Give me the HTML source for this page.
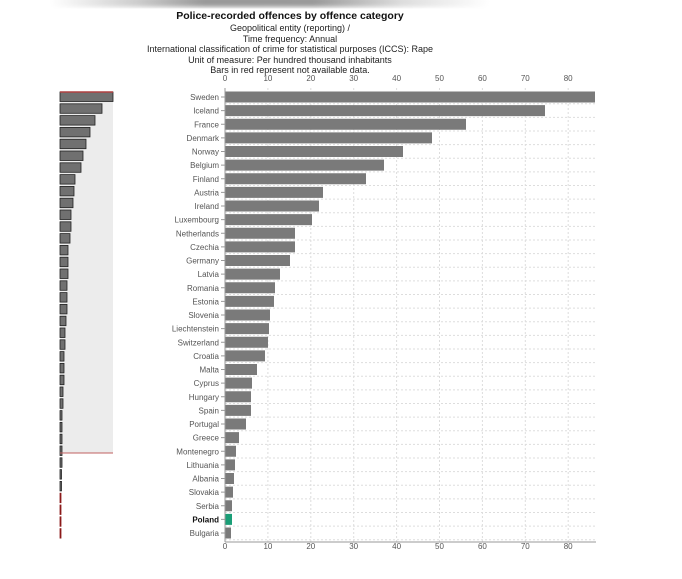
<!DOCTYPE html>
<html><head><meta charset="utf-8"><style>
html,body{margin:0;padding:0;background:#fff;}
svg{display:block;font-family:"Liberation Sans",Arial,sans-serif;}
</style></head><body>
<svg width="682" height="579" viewBox="0 0 682 579">
<defs>
<linearGradient id="tg" x1="0" x2="1" y1="0" y2="0">
<stop offset="0" stop-color="#fff"/><stop offset="0.2" stop-color="#ccc"/><stop offset="0.35" stop-color="#999"/><stop offset="0.6" stop-color="#9a9a9a"/><stop offset="0.8" stop-color="#ddd"/><stop offset="1" stop-color="#fff"/>
</linearGradient>
<filter id="bl"><feGaussianBlur stdDeviation="2"/></filter>
</defs>
<rect x="50" y="-4" width="440" height="11" fill="url(#tg)" filter="url(#bl)"/>
<g text-anchor="middle" fill="#222">
<text x="290" y="19" font-size="10.5" font-weight="bold" fill="#111">Police-recorded offences by offence category</text>
<text x="290" y="31" font-size="9">Geopolitical entity (reporting) /</text>
<text x="290" y="42" font-size="9">Time frequency: Annual</text>
<text x="290" y="52" font-size="9">International classification of crime for statistical purposes (ICCS): Rape</text>
<text x="290" y="63" font-size="9">Unit of measure: Per hundred thousand inhabitants</text>
<text x="290" y="73" font-size="9">Bars in red represent not available data.</text>
</g>
<rect x="60" y="92" width="53" height="361" fill="#ececec"/>
<g fill="#707070" stroke="#222" stroke-width="0.8" id="mini"></g>
<line x1="60" y1="92" x2="113" y2="92" stroke="#b04040" stroke-width="1.5"/>
<line x1="60" y1="453" x2="113" y2="453" stroke="#c06060" stroke-width="1"/>
<g stroke="#ddd" stroke-dasharray="2,2" id="grid"></g>
<g id="bars"></g>
<line x1="225" y1="88" x2="225" y2="542" stroke="#999"/>
<line x1="225" y1="542" x2="596" y2="542" stroke="#999"/>
<g font-size="8" fill="#555" text-anchor="middle" id="ticks"></g>
<g font-size="8" fill="#555" text-anchor="end" id="labels"></g>
</svg>
<script>
var NS="http://www.w3.org/2000/svg";
function el(p,t,a,txt){var e=document.createElementNS(NS,t);for(var k in a)e.setAttribute(k,a[k]);if(txt!=null)e.textContent=txt;document.getElementById(p).appendChild(e);return e;}
var names=["Sweden","Iceland","France","Denmark","Norway","Belgium","Finland","Austria","Ireland","Luxembourg","Netherlands","Czechia","Germany","Latvia","Romania","Estonia","Slovenia","Liechtenstein","Switzerland","Croatia","Malta","Cyprus","Hungary","Spain","Portugal","Greece","Montenegro","Lithuania","Albania","Slovakia","Serbia","Poland","Bulgaria"];
var ends=[595,545,466,432,403,384,366,323,319,312,295,295,290,280,275,274,270,269,268,265,257,252,251,251,246,239,236,235,234,233,232,232,231];
for(var t=0;t<=80;t+=10){var x=225+t*4.29;
 if(t>0) el("grid","line",{x1:x,y1:88,x2:x,y2:542});
 el("ticks","text",{x:x,y:81},t); el("ticks","text",{x:x,y:549},t);}
for(var i=0;i<names.length;i++){var c=97+i*13.625;
 el("grid","line",{x1:225,y1:c+6.8,x2:596,y2:c+6.8});
 el("bars","rect",{x:225,y:c-5.5,width:ends[i]-225,height:11,fill:names[i]=="Poland"?"#1a9e77":"#7a7a7a"});
 var lb=el("labels","text",{x:219,y:c+3},names[i]);
 if(names[i]=="Poland"){lb.setAttribute("font-weight","bold");lb.setAttribute("fill","#111");}
 el("labels","line",{x1:221,y1:c,x2:225,y2:c,stroke:"#999"});}
var mw=[53,42,35,30,26,23,21,15,14,13,11,11,10,8,8,8,7,7,7,6,5,5,4,4,4,3,3,2,2,2,2,2,1.5,1.5,1,1,1,1];
for(var j=0;j<38;j++){var y=92+j*11.8;
 var r=el("mini","rect",{x:60,y:y,width:mw[j],height:9.5});
 if(j>=34){r.setAttribute("fill","#8b1a1a");r.setAttribute("stroke","#8b1a1a");}}
</script>
</body></html>
